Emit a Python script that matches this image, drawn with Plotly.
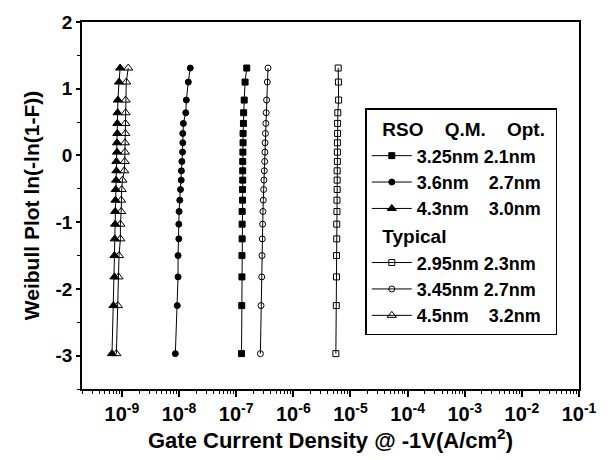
import plotly.graph_objects as go

# Weibull y-levels (shared by every sample set), bottom -> top
weibull_y = [-2.97, -2.25, -1.82, -1.50, -1.25, -1.03, -0.84, -0.67, -0.51, -0.37,
             -0.23, -0.09, 0.05, 0.19, 0.33, 0.48, 0.64, 0.83, 1.10, 1.31]

# Gate current density (A/cm^2), bottom -> top
rso_325 = [1.24e-7, 1.25e-7, 1.26e-7, 1.26e-7, 1.27e-7, 1.27e-7, 1.27e-7, 1.29e-7, 1.29e-7, 1.30e-7,
           1.30e-7, 1.30e-7, 1.31e-7, 1.32e-7, 1.32e-7, 1.34e-7, 1.35e-7, 1.38e-7, 1.43e-7, 1.53e-7]
rso_36 = [8.6e-9, 9.3e-9, 9.6e-9, 9.6e-9, 9.9e-9, 9.9e-9, 1.00e-8, 1.03e-8, 1.06e-8, 1.09e-8,
          1.10e-8, 1.12e-8, 1.15e-8, 1.16e-8, 1.16e-8, 1.19e-8, 1.31e-8, 1.34e-8, 1.45e-8, 1.57e-8]
rso_43 = [6.7e-10, 7.1e-10, 7.4e-10, 7.4e-10, 7.5e-10, 7.6e-10, 7.6e-10, 7.7e-10, 7.8e-10, 7.9e-10,
          8.0e-10, 8.0e-10, 8.2e-10, 8.2e-10, 8.3e-10, 8.3e-10, 8.4e-10, 8.5e-10, 8.9e-10, 9.3e-10]
typ_295 = [5.55e-6, 5.65e-6, 5.7e-6, 5.7e-6, 5.75e-6, 5.75e-6, 5.8e-6, 5.8e-6, 5.85e-6, 5.85e-6,
           5.85e-6, 5.9e-6, 5.9e-6, 5.9e-6, 5.95e-6, 5.95e-6, 6.0e-6, 6.2e-6, 6.15e-6, 6.1e-6]
typ_345 = [2.65e-7, 2.72e-7, 2.8e-7, 2.83e-7, 2.86e-7, 2.9e-7, 2.94e-7, 2.98e-7, 3.02e-7, 3.06e-7,
           3.1e-7, 3.15e-7, 3.18e-7, 3.2e-7, 3.25e-7, 3.3e-7, 3.35e-7, 3.4e-7, 3.5e-7, 3.6e-7]
typ_45 = [8.0e-10, 8.5e-10, 8.7e-10, 8.9e-10, 9.4e-10, 9.4e-10, 9.7e-10, 9.7e-10, 9.9e-10, 1.02e-9,
          1.10e-9, 1.12e-9, 1.13e-9, 1.13e-9, 1.15e-9, 1.15e-9, 1.16e-9, 1.16e-9, 1.19e-9, 1.29e-9]

NB = "\u00a0"
series = [
    ("rso", rso_325, "square", 6, "3.25nm 2.1nm"),
    ("rso", rso_36, "circle", 6, "3.6nm" + NB * 4 + "2.7nm"),
    ("rso", rso_43, "triangle-up", 8, "4.3nm" + NB * 4 + "3.0nm"),
    ("typ", typ_295, "square-open", 6, "2.95nm 2.3nm"),
    ("typ", typ_345, "circle-open", 6, "3.45nm 2.7nm"),
    ("typ", typ_45, "triangle-up-open", 8, "4.5nm" + NB * 4 + "3.2nm"),
]
group_titles = {"rso": NB * 2 + "RSO" + NB * 4 + "Q.M." + NB * 4 + "Opt.", "typ": NB * 2 + "Typical"}

fig = go.Figure()
seen = set()
for grp, xs, sym, sz, name in series:
    kw = {}
    if grp not in seen:
        kw["legendgrouptitle"] = dict(text=group_titles[grp],
                                      font=dict(size=19, family="Liberation Sans, Arial", weight="bold"))
        seen.add(grp)
    fig.add_trace(go.Scatter(
        x=xs, y=weibull_y, mode="lines+markers", name=name, legendgroup=grp,
        line=dict(color="black", width=1),
        marker=dict(symbol=sym, size=sz, color="black", line=dict(color="black", width=1)),
        **kw))

xt_vals = [1e-9, 1e-8, 1e-7, 1e-6, 1e-5, 1e-4, 1e-3, 1e-2, 1e-1]
xt_text = ["10<sup>-9</sup>", "10<sup>-8</sup>", "10<sup>-7</sup>", "10<sup>-6</sup>", "10<sup>-5</sup>",
           "10<sup>-4</sup>", "10<sup>-3</sup>", "10<sup>-2</sup>", "10<sup>-1</sup>"]
minor_x = [m * 10.0 ** e for e in range(-10, -1) for m in range(2, 10)]
yt_vals = [2, 1, 0, -1, -2, -3]
yt_text = ["2", "1", "0", "-1", "-2", "-3"]

fig.update_layout(
    width=609, height=460,
    margin=dict(l=82, r=19, t=15, b=71),
    paper_bgcolor="white", plot_bgcolor="white",
    font=dict(family="Liberation Sans, Arial", size=19, color="black", weight="bold"),
    showlegend=True,
    legend=dict(x=0.57, y=0.765, xanchor="left", yanchor="top",
                bordercolor="black", borderwidth=1.5, bgcolor="white",
                font=dict(size=18), tracegroupgap=0, itemwidth=40),
    xaxis=dict(type="log", range=[-9.699, -1], tickmode="array", tickvals=xt_vals, ticktext=xt_text,
               ticks="outside", ticklen=6, tickwidth=1.5, tickcolor="black",
               minor=dict(tickmode="array", tickvals=minor_x, ticks="outside", ticklen=3,
                          tickwidth=1, tickcolor="black"),
               showline=True, linecolor="black", linewidth=2, mirror=True, showgrid=False,
               zeroline=False, tickfont=dict(size=20),
               title=dict(text="Gate Current Density @ -1V(A/cm<sup>2</sup>)", font=dict(size=22),
                          standoff=6)),
    yaxis=dict(range=[-3.5, 2], tickmode="array", tickvals=yt_vals, ticktext=yt_text,
               ticks="outside", ticklen=4, tickwidth=1.5, tickcolor="black",
               minor=dict(dtick=0.5, ticks="outside", ticklen=3, tickwidth=1, tickcolor="black"),
               showline=True, linecolor="black", linewidth=1.5, mirror=True, showgrid=False,
               zeroline=False, tickfont=dict(size=19),
               title=dict(text="Weibull Plot ln(-ln(1-F))", font=dict(size=21), standoff=10)),
)

fig.write_html("out.html")
